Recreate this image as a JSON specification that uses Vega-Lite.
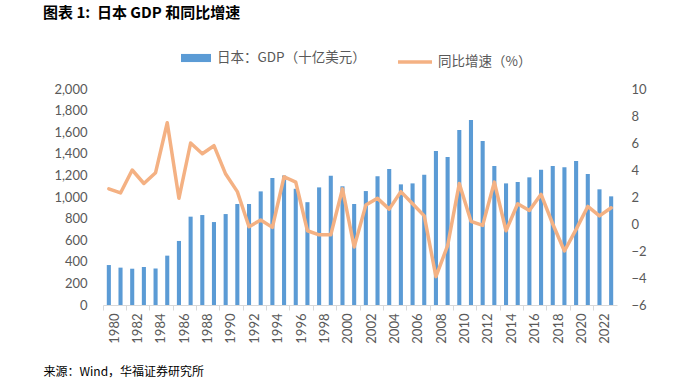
{
  "$schema": "https://vega.github.io/schema/vega-lite/v6.json",
  "width": 514,
  "height": 216,
  "autosize": {"type": "none"},
  "padding": {"left": 103, "top": 89, "right": 56, "bottom": 77},
  "background": "#ffffff",
  "title": {
    "text": "图表 1:\u00a0\u00a0日本 GDP 和同比增速",
    "anchor": "start",
    "frame": "group",
    "dx": -60,
    "offset": 22,
    "font": "Noto Sans CJK SC",
    "fontSize": 15,
    "fontWeight": "bold",
    "color": "#000000"
  },
  "config": {
    "view": {"stroke": null},
    "axis": {
      "labelFont": "Lato",
      "labelFontSize": 13,
      "labelColor": "#595959",
      "grid": false
    }
  },
  "data": {
    "values": [
      {"year": 1980, "gdp": 370, "growth": 2.6},
      {"year": 1981, "gdp": 346, "growth": 2.3},
      {"year": 1982, "gdp": 336, "growth": 4.0},
      {"year": 1983, "gdp": 352, "growth": 3.0},
      {"year": 1984, "gdp": 338, "growth": 3.8},
      {"year": 1985, "gdp": 457, "growth": 7.5},
      {"year": 1986, "gdp": 593, "growth": 1.9},
      {"year": 1987, "gdp": 818, "growth": 6.0},
      {"year": 1988, "gdp": 833, "growth": 5.2},
      {"year": 1989, "gdp": 768, "growth": 5.8},
      {"year": 1990, "gdp": 842, "growth": 3.7},
      {"year": 1991, "gdp": 935, "growth": 2.4},
      {"year": 1992, "gdp": 935, "growth": -0.2},
      {"year": 1993, "gdp": 1052, "growth": 0.3},
      {"year": 1994, "gdp": 1176, "growth": -0.25},
      {"year": 1995, "gdp": 1200, "growth": 3.5},
      {"year": 1996, "gdp": 1076, "growth": 3.1},
      {"year": 1997, "gdp": 952, "growth": -0.5},
      {"year": 1998, "gdp": 1089, "growth": -0.8},
      {"year": 1999, "gdp": 1197, "growth": -0.8},
      {"year": 2000, "gdp": 1099, "growth": 2.6},
      {"year": 2001, "gdp": 935, "growth": -1.7},
      {"year": 2002, "gdp": 1055, "growth": 1.4},
      {"year": 2003, "gdp": 1191, "growth": 1.9},
      {"year": 2004, "gdp": 1259, "growth": 1.1},
      {"year": 2005, "gdp": 1117, "growth": 2.4},
      {"year": 2006, "gdp": 1126, "growth": 1.5},
      {"year": 2007, "gdp": 1207, "growth": 0.6},
      {"year": 2008, "gdp": 1426, "growth": -3.9},
      {"year": 2009, "gdp": 1370, "growth": -1.6},
      {"year": 2010, "gdp": 1620, "growth": 3.0},
      {"year": 2011, "gdp": 1713, "growth": 0.2},
      {"year": 2012, "gdp": 1518, "growth": -0.1},
      {"year": 2013, "gdp": 1287, "growth": 3.1},
      {"year": 2014, "gdp": 1126, "growth": -0.5},
      {"year": 2015, "gdp": 1139, "growth": 1.5},
      {"year": 2016, "gdp": 1182, "growth": 1.0},
      {"year": 2017, "gdp": 1253, "growth": 2.2},
      {"year": 2018, "gdp": 1287, "growth": 0.0},
      {"year": 2019, "gdp": 1275, "growth": -2.0},
      {"year": 2020, "gdp": 1333, "growth": -0.4},
      {"year": 2021, "gdp": 1213, "growth": 1.3},
      {"year": 2022, "gdp": 1071, "growth": 0.6},
      {"year": 2023, "gdp": 1006, "growth": 1.2}
    ]
  },
  "encoding": {
    "x": {
      "field": "year",
      "type": "ordinal",
      "scale": {"paddingInner": 0, "paddingOuter": 0},
      "axis": {
        "values": [1980, 1982, 1984, 1986, 1988, 1990, 1992, 1994, 1996, 1998, 2000, 2002, 2004, 2006, 2008, 2010, 2012, 2014, 2016, 2018, 2020, 2022],
        "labelAngle": -90,
        "bandPosition": 0,
        "labelOffset": 5.84,
        "tickSize": 5,
        "tickColor": "#d9d9d9",
        "domainColor": "#d9d9d9",
        "labelPadding": 3,
        "title": "来源：Wind，华福证券研究所",
        "titleFont": "Noto Sans CJK SC",
        "titleFontSize": 12,
        "titleFontWeight": "normal",
        "titleColor": "#000000",
        "titleAngle": 0,
        "titleAlign": "left",
        "titleBaseline": "middle",
        "titleX": -60,
        "titleY": 66
      }
    }
  },
  "layer": [
    {
      "mark": {"type": "bar", "width": {"band": 0.35}},
      "encoding": {
        "y": {
          "field": "gdp",
          "type": "quantitative",
          "scale": {"domain": [0, 2000]},
          "axis": {
            "orient": "left",
            "values": [0, 200, 400, 600, 800, 1000, 1200, 1400, 1600, 1800, 2000],
            "format": ",d",
            "domain": false,
            "ticks": false,
            "tickSize": 0,
            "labelPadding": 16,
            "title": null
          }
        },
        "fill": {
          "datum": "日本：GDP（十亿美元）",
          "type": "nominal",
          "scale": {"range": ["#5b9bd5"]},
          "legend": {
            "orient": "none",
            "legendX": 78,
            "legendY": -46,
            "title": null,
            "symbolType": "M-1,-0.27H1V0.27H-1Z",
            "symbolSize": 900,
            "symbolStrokeWidth": 0,
            "labelFont": "Noto Sans CJK SC",
            "labelFontSize": 13.5,
            "labelColor": "#595959",
            "labelOffset": 6
          }
        }
      }
    },
    {
      "mark": {"type": "line", "strokeWidth": 3.5, "strokeJoin": "round", "strokeCap": "round"},
      "encoding": {
        "y": {
          "field": "growth",
          "type": "quantitative",
          "scale": {"domain": [-6, 10]},
          "axis": {
            "orient": "right",
            "values": [-6, -4, -2, 0, 2, 4, 6, 8, 10],
            "domain": false,
            "ticks": false,
            "tickSize": 0,
            "labelPadding": 14,
            "title": null
          }
        },
        "stroke": {
          "datum": "同比增速（%）",
          "type": "nominal",
          "scale": {"range": ["#f4b183"]},
          "legend": {
            "orient": "none",
            "legendX": 293,
            "legendY": -46,
            "title": null,
            "symbolType": "stroke",
            "symbolSize": 1156,
            "symbolStrokeWidth": 3.5,
            "labelFont": "Noto Sans CJK SC",
            "labelFontSize": 13.5,
            "labelColor": "#595959",
            "labelOffset": 4
          }
        }
      }
    }
  ],
  "resolve": {"scale": {"y": "independent"}}
}
